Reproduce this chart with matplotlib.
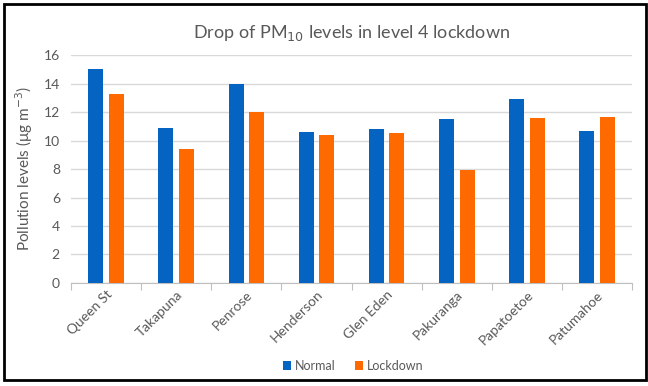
import matplotlib.pyplot as plt
import matplotlib.patches as patches
import numpy as np

sites = ["Queen St", "Takapuna", "Penrose", "Henderson", "Glen Eden",
         "Pakuranga", "Papatoetoe", "Patumahoe"]
normal = [15.0, 10.9, 14.0, 10.6, 10.8, 11.5, 12.9, 10.7]
lockdown = [13.3, 9.4, 12.0, 10.4, 10.5, 7.9, 11.6, 11.65]

plt.rcParams['font.family'] = ['Lato', 'DejaVu Sans']
text_col = '#595959'
blue = '#0563C1'
orange = '#FF6A00'

fig = plt.figure(figsize=(6.48, 3.86), dpi=100)
ax = fig.add_axes([0.1096, 0.267, 0.866, 0.59])

x = np.arange(len(sites))
w = 0.214
ax.bar(x - 0.147, normal, w, color=blue, label='Normal', zorder=3)
ax.bar(x + 0.147, lockdown, w, color=orange, label='Lockdown', zorder=3)

ax.set_xlim(-0.5, len(sites) - 0.5)
ax.set_ylim(0, 16)
ax.set_yticks(range(0, 17, 2))
ax.yaxis.grid(True, color='#D9D9D9', linewidth=1, zorder=0)
ax.tick_params(axis='y', length=0, labelsize=10, colors=text_col, pad=8)

# category ticks sit between groups, labels centred on groups
ax.set_xticks(np.arange(-0.5, len(sites)), minor=False)
ax.set_xticklabels([])
ax.tick_params(axis='x', which='major', direction='out', length=5, color='#BFBFBF')
ax.set_xticks(x, minor=True)
ax.set_xticklabels(sites, minor=True, rotation=45, ha='right', va='top',
                   rotation_mode='anchor', fontsize=10, color=text_col)
ax.tick_params(axis='x', which='minor', length=0, pad=4)

for s in ['top', 'right', 'left']:
    ax.spines[s].set_visible(False)
ax.spines['bottom'].set_color('#BFBFBF')

ax.set_ylabel('Pollution levels (μg m$^{-3}$)', fontsize=11, color=text_col, labelpad=6)
fig.text(0.543, 0.915, 'Drop of PM$_{10}$ levels in level 4 lockdown',
         ha='center', va='center', fontsize=13, color=text_col)

fig.legend(loc='center', bbox_to_anchor=(0.545, 0.052), ncol=2, frameon=False,
           fontsize=9, labelcolor=text_col, handlelength=0.7, handleheight=0.7,
           handletextpad=0.3, columnspacing=1.5)

# outer frame
fig.patches.append(patches.Rectangle((0.006, 0.016), 0.991, 0.974, transform=fig.transFigure,
                                     fill=False, edgecolor='black', linewidth=2))

fig.savefig('out.png', dpi=100)
